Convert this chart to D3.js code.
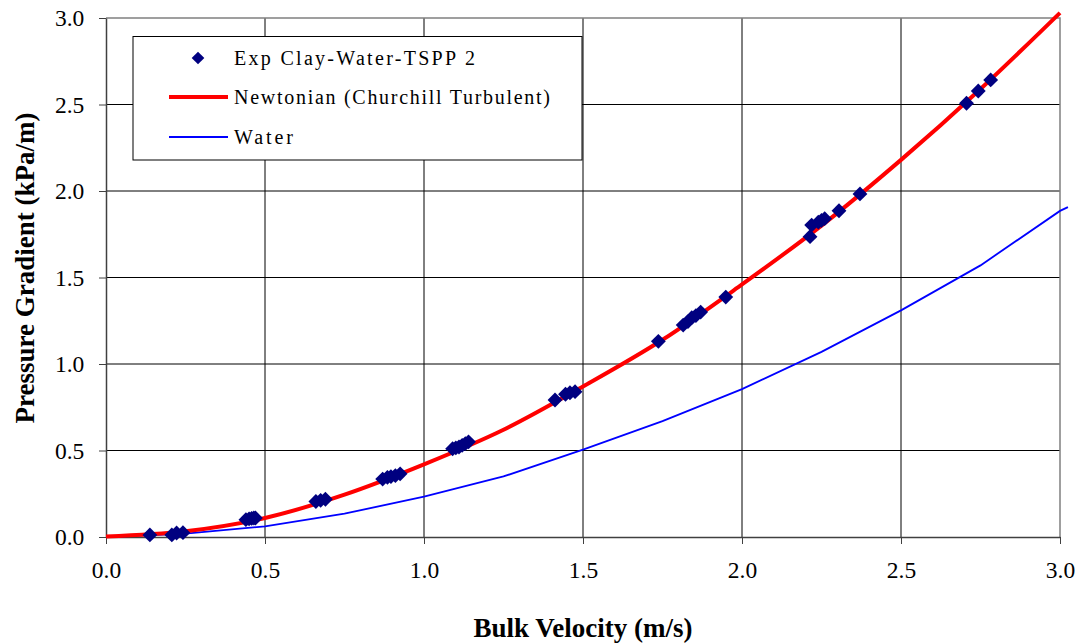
<!DOCTYPE html>
<html><head><meta charset="utf-8">
<script src="https://cdn.jsdelivr.net/npm/d3@7"></script>
<style>body{margin:0;background:#fff}svg{display:block}</style>
</head><body>
<svg id="c" width="1085" height="643"></svg>
<script>
// Experimental data: Exp Clay-Water-TSPP 2
const expVelocity = [0.138,0.207,0.222,0.242,0.44,0.45,0.458,0.465,0.47,0.66,0.675,0.69,0.87,0.885,0.896,0.91,0.925,1.09,1.10,1.11,1.12,1.13,1.14,1.412,1.445,1.459,1.475,1.737,1.815,1.83,1.842,1.855,1.87,1.949,2.214,2.219,2.24,2.25,2.26,2.305,2.371,2.706,2.743,2.782];
const expGradient = [0.012,0.012,0.023,0.025,0.10,0.105,0.108,0.11,0.11,0.205,0.212,0.218,0.335,0.345,0.349,0.355,0.365,0.51,0.515,0.52,0.53,0.54,0.55,0.792,0.825,0.834,0.84,1.131,1.225,1.245,1.268,1.28,1.30,1.387,1.736,1.803,1.82,1.83,1.84,1.886,1.983,2.507,2.578,2.642];
// Newtonian (Churchill Turbulent)
const newtVelocity = [0,0.25,0.5,0.75,1.0,1.25,1.5,1.75,2.0,2.25,2.5,2.75,3.0];
const newtGradient = [0.003,0.033,0.11,0.245,0.42,0.62,0.87,1.14,1.46,1.80,2.18,2.59,3.03];
// Water
const waterVelocity = [0,0.25,0.5,0.75,1.0,1.25,1.5,1.75,2.0,2.25,2.5,2.75,3.0,3.025];
const waterGradient = [0,0.02,0.062,0.135,0.233,0.35,0.505,0.67,0.855,1.07,1.31,1.57,1.885,1.907];
const xTicks = [0,0.5,1.0,1.5,2.0,2.5,3.0];
const yTicks = [0,0.5,1.0,1.5,2.0,2.5,3.0];
const legendLabels = ["Exp Clay-Water-TSPP 2","Newtonian (Churchill Turbulent)","Water"];

const svg = d3.select("#c");
const L=106, R=1060, T=18, B=537;
const x = d3.scaleLinear().domain([0,3]).range([L,R]);
const y = d3.scaleLinear().domain([0,3]).range([B,T]);
const serif = "'Liberation Serif','Times New Roman',serif";

// grid
svg.append("g").selectAll("line").data(xTicks.slice(1,-1)).join("line")
  .attr("x1",d=>x(d)).attr("x2",d=>x(d)).attr("y1",T).attr("y2",B)
  .attr("stroke","#000").attr("stroke-width",1);
svg.append("g").selectAll("line").data(yTicks.slice(1,-1)).join("line")
  .attr("y1",d=>y(d)).attr("y2",d=>y(d)).attr("x1",L).attr("x2",R)
  .attr("stroke","#000").attr("stroke-width",1);
// border top/right
svg.append("path").attr("d",`M${L},${T}H${R}V${B}`).attr("fill","none").attr("stroke","#808080").attr("stroke-width",1.5);

// axes
const xAxis = d3.axisBottom(x).tickValues(xTicks).tickFormat(d3.format(".1f")).tickSize(7).tickSizeOuter(0);
const yAxis = d3.axisLeft(y).tickValues(yTicks).tickFormat(d3.format(".1f")).tickSize(7).tickSizeOuter(0);
const gx = svg.append("g").attr("transform",`translate(0,${B})`).call(xAxis);
const gy = svg.append("g").attr("transform",`translate(${L},0)`).call(yAxis);
[gx,gy].forEach(g=>{
  g.select(".domain").attr("stroke","#404040").attr("stroke-width",1.5);
  g.selectAll(".tick line").attr("stroke","#404040").attr("stroke-width",1);
  g.selectAll("text").attr("font-family",serif).attr("font-size",23.5).attr("fill","#000");
});
gx.selectAll("text").attr("dy","1.3em");
gy.selectAll("text").attr("dx","-0.5em");

// lines
const line = d3.line().x(d=>x(d[0])).y(d=>y(d[1]));
svg.append("path").datum(waterVelocity.map((v,i)=>[v,waterGradient[i]]))
  .attr("d",line).attr("fill","none").attr("stroke","#0000ff").attr("stroke-width",1.8);
svg.append("path").datum(newtVelocity.map((v,i)=>[v,newtGradient[i]]))
  .attr("d",d3.line().x(d=>x(d[0])).y(d=>y(d[1])).curve(d3.curveMonotoneX)).attr("fill","none").attr("stroke","#ff0000").attr("stroke-width",4);

// markers
const diamond = d3.symbol(d3.symbolSquare, 110)();
svg.append("g").selectAll("path").data(expVelocity.map((v,i)=>[v,expGradient[i]])).join("path")
  .attr("d",diamond).attr("transform",d=>`translate(${x(d[0])},${y(d[1])}) rotate(45)`)
  .attr("fill","#000080");

// legend
const lg = svg.append("g");
lg.append("rect").attr("x",133).attr("y",36.5).attr("width",449).attr("height",123.5)
  .attr("fill","#fff").attr("stroke","#000").attr("stroke-width",1);
lg.append("path").attr("d",d3.symbol(d3.symbolSquare,80)()).attr("transform","translate(198,58) rotate(45)").attr("fill","#000080");
lg.append("line").attr("x1",169).attr("x2",228).attr("y1",97).attr("y2",97).attr("stroke","#ff0000").attr("stroke-width",4);
lg.append("line").attr("x1",169).attr("x2",228).attr("y1",137).attr("y2",137).attr("stroke","#0000ff").attr("stroke-width",1.8);
const lw=[241,316,59];
lg.selectAll("text.l").data(legendLabels).join("text").attr("class","l")
  .attr("x",234).attr("y",(d,i)=>64.5+i*39.5)
  .attr("font-family",serif).attr("font-size",20)
  .attr("textLength",(d,i)=>lw[i]).attr("lengthAdjust","spacing")
  .text(d=>d);

// titles
svg.append("text").attr("x",583).attr("y",637).attr("text-anchor","middle")
  .attr("font-family",serif).attr("font-weight","bold").attr("font-size",27).text("Bulk Velocity (m/s)");
svg.append("text").attr("transform","translate(34,268) rotate(-90)").attr("text-anchor","middle")
  .attr("font-family",serif).attr("font-weight","bold").attr("font-size",27).text("Pressure Gradient (kPa/m)");
</script>
</body></html>
